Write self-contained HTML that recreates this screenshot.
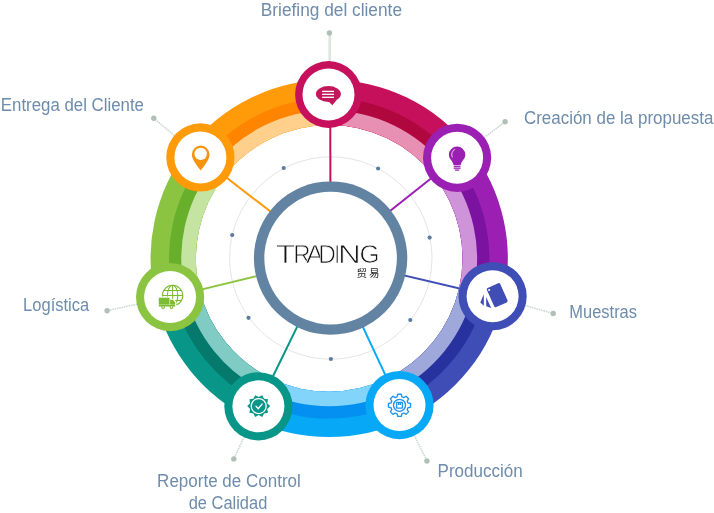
<!DOCTYPE html>
<html lang="es"><head><meta charset="utf-8"><title>Trading</title>
<style>html,body{margin:0;padding:0;background:#fff;}body{width:714px;height:513px;overflow:hidden;}svg{display:block;}text{filter:brightness(1);}</style>
</head><body>
<svg width="714" height="513" viewBox="0 0 714 513">
<rect width="714" height="513" fill="#fff"/>
<circle cx="330.8" cy="258" r="101.2" fill="none" stroke="#d9dde2" stroke-width="0.8"/>
<line x1="330.2" y1="94.5" x2="330.6" y2="258.1" stroke="#C6105C" stroke-width="2"/>
<line x1="457.1" y1="157.8" x2="330.6" y2="258.1" stroke="#9C1FB4" stroke-width="2"/>
<line x1="492.6" y1="296.2" x2="330.6" y2="258.1" stroke="#3F4EB7" stroke-width="2"/>
<line x1="399.5" y1="405.1" x2="330.6" y2="258.1" stroke="#07A8F5" stroke-width="2"/>
<line x1="258.4" y1="406.3" x2="330.6" y2="258.1" stroke="#079688" stroke-width="2"/>
<line x1="170.1" y1="297.1" x2="330.6" y2="258.1" stroke="#8BC440" stroke-width="2"/>
<line x1="200.4" y1="157.4" x2="330.6" y2="258.1" stroke="#FF9A08" stroke-width="2"/>
<path d="M328.44 79.80A178.6 178.6 0 0 1 469.58 147.98L433.97 175.99A133.3 133.3 0 0 0 328.63 125.10Z" fill="#C6105C"/>
<path d="M328.52 98.20A160.2 160.2 0 0 1 455.12 159.36L433.97 175.99A133.3 133.3 0 0 0 328.63 125.10Z" fill="#B0083E"/>
<path d="M328.57 110.50A147.9 147.9 0 0 1 445.45 166.96L433.97 175.99A133.3 133.3 0 0 0 328.63 125.10Z" fill="#E88FB4"/>
<path d="M469.58 147.98A178.6 178.6 0 0 1 503.20 298.65L459.07 288.44A133.3 133.3 0 0 0 433.97 175.99Z" fill="#9C1FB4"/>
<path d="M455.12 159.36A160.2 160.2 0 0 1 485.28 294.51L459.07 288.44A133.3 133.3 0 0 0 433.97 175.99Z" fill="#7B12A0"/>
<path d="M445.45 166.96A147.9 147.9 0 0 1 473.29 291.73L459.07 288.44A133.3 133.3 0 0 0 433.97 175.99Z" fill="#CE93D8"/>
<path d="M503.20 298.65A178.6 178.6 0 0 1 406.38 419.46L386.81 378.61A133.3 133.3 0 0 0 459.07 288.44Z" fill="#3F4EB7"/>
<path d="M485.28 294.51A160.2 160.2 0 0 1 398.43 402.87L386.81 378.61A133.3 133.3 0 0 0 459.07 288.44Z" fill="#28329E"/>
<path d="M473.29 291.73A147.9 147.9 0 0 1 393.12 391.78L386.81 378.61A133.3 133.3 0 0 0 459.07 288.44Z" fill="#9FA8DA"/>
<path d="M406.38 419.46A178.6 178.6 0 0 1 252.08 419.49L271.64 378.63A133.3 133.3 0 0 0 386.81 378.61Z" fill="#07A8F5"/>
<path d="M398.43 402.87A160.2 160.2 0 0 1 260.03 402.90L271.64 378.63A133.3 133.3 0 0 0 386.81 378.61Z" fill="#0390F0"/>
<path d="M393.12 391.78A147.9 147.9 0 0 1 265.34 391.80L271.64 378.63A133.3 133.3 0 0 0 386.81 378.61Z" fill="#82D4FA"/>
<path d="M252.08 419.49A178.6 178.6 0 0 1 155.66 300.61L199.68 289.91A133.3 133.3 0 0 0 271.64 378.63Z" fill="#079688"/>
<path d="M260.03 402.90A160.2 160.2 0 0 1 173.54 296.26L199.68 289.91A133.3 133.3 0 0 0 271.64 378.63Z" fill="#04796C"/>
<path d="M265.34 391.80A147.9 147.9 0 0 1 185.49 293.36L199.68 289.91A133.3 133.3 0 0 0 271.64 378.63Z" fill="#80CBC4"/>
<path d="M155.66 300.61A178.6 178.6 0 0 1 188.66 148.19L224.30 176.15A133.3 133.3 0 0 0 199.68 289.91Z" fill="#8BC440"/>
<path d="M173.54 296.26A160.2 160.2 0 0 1 203.14 159.55L224.30 176.15A133.3 133.3 0 0 0 199.68 289.91Z" fill="#68B02C"/>
<path d="M185.49 293.36A147.9 147.9 0 0 1 212.82 167.14L224.30 176.15A133.3 133.3 0 0 0 199.68 289.91Z" fill="#C5E4A1"/>
<path d="M188.66 148.19A178.6 178.6 0 0 1 328.44 79.80L328.63 125.10A133.3 133.3 0 0 0 224.30 176.15Z" fill="#FF9A08"/>
<path d="M203.14 159.55A160.2 160.2 0 0 1 328.52 98.20L328.63 125.10A133.3 133.3 0 0 0 224.30 176.15Z" fill="#FF8400"/>
<path d="M212.82 167.14A147.9 147.9 0 0 1 328.57 110.50L328.63 125.10A133.3 133.3 0 0 0 224.30 176.15Z" fill="#FFCF8C"/>
<line x1="329.7" y1="94.5" x2="329.7" y2="33.0" stroke="#dde5e0" stroke-width="2.6"/>
<circle cx="329.4" cy="33.0" r="2.7" fill="#b0c0b6"/>
<line x1="457.1" y1="157.8" x2="505.1" y2="121.8" stroke="#cdd8d0" stroke-width="1.6" stroke-dasharray="1.6 0.8"/>
<circle cx="505.1" cy="121.8" r="2.7" fill="#b0c0b6"/>
<line x1="492.6" y1="296.2" x2="553.2" y2="313.5" stroke="#cdd8d0" stroke-width="1.6" stroke-dasharray="1.6 0.8"/>
<circle cx="553.2" cy="313.5" r="2.7" fill="#b0c0b6"/>
<line x1="399.5" y1="405.1" x2="426.9" y2="461" stroke="#cdd8d0" stroke-width="1.6" stroke-dasharray="1.6 0.8"/>
<circle cx="426.9" cy="461" r="2.7" fill="#b0c0b6"/>
<line x1="258.4" y1="406.3" x2="233.8" y2="458.9" stroke="#cdd8d0" stroke-width="1.6" stroke-dasharray="1.6 0.8"/>
<circle cx="233.8" cy="458.9" r="2.7" fill="#b0c0b6"/>
<line x1="170.1" y1="297.1" x2="107.1" y2="310.7" stroke="#cdd8d0" stroke-width="1.6" stroke-dasharray="1.6 0.8"/>
<circle cx="107.1" cy="310.7" r="2.7" fill="#b0c0b6"/>
<line x1="200.4" y1="157.4" x2="153.8" y2="118.3" stroke="#cdd8d0" stroke-width="1.6" stroke-dasharray="1.6 0.8"/>
<circle cx="153.8" cy="118.3" r="2.7" fill="#b0c0b6"/>
<circle cx="328.5" cy="94.5" r="33.4" fill="#C6105C"/>
<circle cx="328.5" cy="94.5" r="26" fill="#fff"/>
<circle cx="457.1" cy="157.8" r="34.1" fill="#9C1FB4"/>
<circle cx="457.1" cy="157.8" r="26" fill="#fff"/>
<circle cx="492.6" cy="296.2" r="34.1" fill="#3F4EB7"/>
<circle cx="492.6" cy="296.2" r="26" fill="#fff"/>
<circle cx="399.5" cy="405.1" r="34.1" fill="#07A8F5"/>
<circle cx="399.5" cy="405.1" r="26" fill="#fff"/>
<circle cx="258.4" cy="406.3" r="34.1" fill="#079688"/>
<circle cx="258.4" cy="406.3" r="26" fill="#fff"/>
<circle cx="170.1" cy="297.1" r="34.1" fill="#8BC440"/>
<circle cx="170.1" cy="297.1" r="26" fill="#fff"/>
<circle cx="200.4" cy="157.4" r="34.1" fill="#FF9A08"/>
<circle cx="200.4" cy="157.4" r="26" fill="#fff"/>
<circle cx="330.6" cy="258.1" r="76.7" fill="#6383A3"/>
<circle cx="330.6" cy="258.1" r="66.3" fill="#fff"/>
<circle cx="283.7" cy="168.0" r="2.1" fill="#5c7b9e"/>
<circle cx="378.1" cy="168.5" r="2.1" fill="#5c7b9e"/>
<circle cx="429.6" cy="237.6" r="2.1" fill="#5c7b9e"/>
<circle cx="410.3" cy="320.0" r="2.1" fill="#5c7b9e"/>
<circle cx="330.9" cy="359.0" r="2.1" fill="#5c7b9e"/>
<circle cx="248.5" cy="317.8" r="2.1" fill="#5c7b9e"/>
<circle cx="232.2" cy="235.0" r="2.1" fill="#5c7b9e"/>
<g fill="#C2185B"><ellipse cx="328.4" cy="94" rx="12.5" ry="7.9"/><path d="M327.5 100.5L332.4 105.2L337 99.5Z"/></g>
<g stroke="#fff" stroke-width="1.3"><line x1="322.1" y1="91.4" x2="334" y2="91.4"/><line x1="322.1" y1="94.3" x2="334" y2="94.3"/><line x1="322.1" y1="97.3" x2="334" y2="97.3"/></g>
<g fill="#9C1FB4"><path d="M457.1 146.5a8.2 8.2 0 0 1 8.2 8.2c0 3.2-1.8 4.8-3.2 6.8c-0.8 1.2-1.3 2.1-1.4 3.4h-7.2c-0.1-1.3-0.6-2.2-1.4-3.4c-1.4-2-3.2-3.600-3.2-6.8a8.2 8.2 0 0 1 8.2-8.2z"/><rect x="453.7" y="165.6" width="6.8" height="1.3"/><rect x="453.7" y="167.5" width="6.8" height="1.3"/><path d="M454.5 169.4h5.2l-0.8 1.4h-3.6z"/></g>
<path d="M452.2 157a5.6 5.6 0 0 1 2.6-7.6" fill="none" stroke="#fff" stroke-width="0.9" stroke-linecap="round" opacity="0.85"/>
<g fill="#3F4DB5"><g transform="translate(497.2 295.2) rotate(-24)"><rect x="-7.3" y="-10.5" width="14.6" height="21" rx="1.6"/><circle cx="-5.2" cy="-8" r="1" fill="#fff"/></g><path d="M483.8 294.2L480.3 302.5L483.8 305.7Z"/><path d="M486.1 297L486.3 306.3L491.2 307.9Z"/></g>
<g fill="none" stroke="#2093EA" stroke-width="1.35" stroke-linejoin="round"><path d="M397.07 396.84L397.72 394.24L401.28 394.24L401.93 396.84L403.76 397.60L406.06 396.22L408.58 398.74L407.20 401.04L407.96 402.87L410.56 403.52L410.56 407.08L407.96 407.73L407.20 409.56L408.58 411.86L406.06 414.38L403.76 413.00L401.93 413.76L401.28 416.36L397.72 416.36L397.07 413.76L395.24 413.00L392.94 414.38L390.42 411.86L391.80 409.56L391.04 407.73L388.44 407.08L388.44 403.52L391.04 402.87L391.80 401.04L390.42 398.74L392.94 396.22L395.24 397.60Z"/><circle cx="399.5" cy="405.3" r="6"/><rect x="396.6" y="402.40000000000003" width="5.8" height="5.8" rx="0.6"/><path d="M398.5 402.40000000000003v2.2l1-0.7l1 0.7v-2.2" stroke-width="1.1"/></g>
<path d="M262.25 395.16L263.99 398.82L268.00 399.34L267.26 403.32L270.20 406.10L267.26 408.88L268.00 412.86L263.99 413.38L262.25 417.04L258.70 415.10L255.15 417.04L253.41 413.38L249.40 412.86L250.14 408.88L247.20 406.10L250.14 403.32L249.40 399.34L253.41 398.82L255.15 395.16L258.70 397.10Z" fill="#079688"/><circle cx="258.7" cy="406.1" r="7.5" fill="none" stroke="#fff" stroke-width="1.3"/><path d="M256 406.3L258.3 408.7L262.1 404" fill="none" stroke="#fff" stroke-width="1.3" stroke-linecap="round" stroke-linejoin="round"/>
<g fill="none" stroke="#7DBB35" stroke-width="1.1"><circle cx="172.6" cy="295.5" r="10.2"/><ellipse cx="172.6" cy="295.5" rx="5.2" ry="10.2"/><line x1="172.6" y1="285.3" x2="172.6" y2="305.7"/><line x1="162.4" y1="295.5" x2="182.79999999999998" y2="295.5"/><path d="M163.79999999999998 290.5h17.6M163.79999999999998 300.5h17.6"/></g>
<path d="M157.6 296.5h12.9v2.2h3.2l2.6 3v6.8h-18.7z" fill="#fff"/>
<g fill="#7DBB35"><rect x="158.8" y="297.7" width="10.7" height="7"/><path d="M170.1 299.8h2.9l2.1 2.6v2.3h-5z"/><rect x="158.8" y="305" width="16.3" height="1.5"/><circle cx="163.1" cy="307.1" r="1.9"/><circle cx="171.5" cy="307.1" r="1.9"/></g><circle cx="163.1" cy="307.1" r="0.8" fill="#fff"/><circle cx="171.5" cy="307.1" r="0.8" fill="#fff"/>
<path d="M200.7 145.6a8.8 8.8 0 0 1 8.8 8.8c0 4.6-3.4 9-8.8 16.100c-5.400-7.100-8.8-11.500-8.8-16.100a8.8 8.8 0 0 1 8.8-8.8z" fill="#F7930E"/><circle cx="200.7" cy="153.9" r="6.2" fill="#fff"/>
<g font-family="'Liberation Sans', Arial, sans-serif">
<text x="260.8" y="15.7" font-size="17.5" textLength="141.2" lengthAdjust="spacingAndGlyphs" fill="#6E8CAB">Briefing del cliente</text>
<text x="523.9" y="123.7" font-size="17.5" textLength="189.5" lengthAdjust="spacingAndGlyphs" fill="#6E8CAB">Creación de la propuesta</text>
<text x="569.3" y="317.5" font-size="17.5" textLength="67.7" lengthAdjust="spacingAndGlyphs" fill="#6E8CAB">Muestras</text>
<text x="437.6" y="476.9" font-size="17.5" textLength="85.2" lengthAdjust="spacingAndGlyphs" fill="#6E8CAB">Producción</text>
<text x="157.1" y="487.1" font-size="17.5" textLength="143.7" lengthAdjust="spacingAndGlyphs" fill="#6E8CAB">Reporte de Control</text>
<text x="188.7" y="508.6" font-size="17.5" textLength="78.6" lengthAdjust="spacingAndGlyphs" fill="#6E8CAB">de Calidad</text>
<text x="23.1" y="311.4" font-size="17.5" textLength="66.1" lengthAdjust="spacingAndGlyphs" fill="#6E8CAB">Logística</text>
<text x="0.8" y="111" font-size="17.5" textLength="143.2" lengthAdjust="spacingAndGlyphs" fill="#6E8CAB">Entrega del Cliente</text>
</g>
<text y="262.8" font-family="'Liberation Sans', Arial, sans-serif" font-size="25.2" fill="#151515" stroke="#fff" stroke-width="0.75"><tspan x="275.69" textLength="19.44" lengthAdjust="spacingAndGlyphs">T</tspan><tspan x="293.23" textLength="17.39" lengthAdjust="spacingAndGlyphs">R</tspan><tspan x="306.05" textLength="17.81" lengthAdjust="spacingAndGlyphs">A</tspan><tspan x="318.19" textLength="17.68" lengthAdjust="spacingAndGlyphs">D</tspan><tspan x="334.42" textLength="5.25" lengthAdjust="spacingAndGlyphs">I</tspan><tspan x="338.02" textLength="22.75" lengthAdjust="spacingAndGlyphs">N</tspan><tspan x="359.50" textLength="20.14" lengthAdjust="spacingAndGlyphs">G</tspan></text>
<text x="356.4" y="277.3" font-family="'Liberation Sans', 'Noto Sans CJK SC', sans-serif" font-size="10.5" letter-spacing="2" fill="#222">贸易</text>
</svg>
</body></html>
